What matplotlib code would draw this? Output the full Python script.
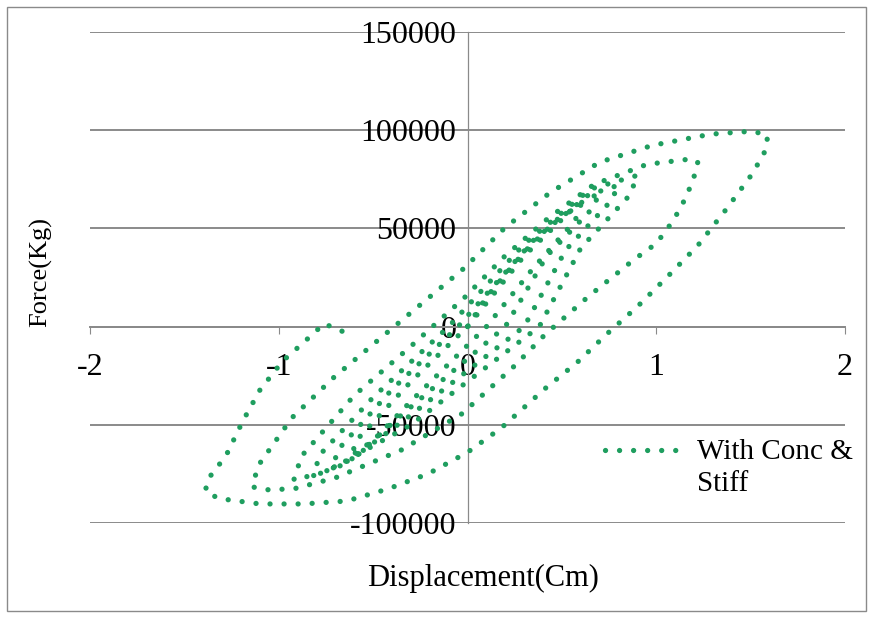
import matplotlib.pyplot as plt
from matplotlib.patches import Rectangle

# hysteresis path, cycle by cycle (displacement in cm, force in kg)
disp = [
    # cycle 1
    0.0, 0.1, 0.3, 0.48, 0.60,
    0.57, 0.35, 0.10, -0.3, -0.5, -0.62,
    # cycle 2
    -0.58, -0.3, 0.0, 0.3, 0.58, 0.70,
    0.66, 0.42, 0.20, -0.35, -0.6, -0.72,
    # cycle 3
    -0.68, -0.4, -0.05, 0.35, 0.64, 0.80,
    0.76, 0.52, 0.30, -0.3, -0.65, -0.82,
    # cycle 4
    -0.78, -0.5, -0.10, 0.3, 0.65, 0.9,
    0.86, 0.6, 0.38, -0.3, -0.75, -0.92,
    # cycle 5
    -0.88, -0.6, -0.3, -0.016, 0.19, 0.42, 0.67, 0.95, 1.17, 1.22,
    1.21, 1.16, 1.09, 1.0, 0.88, 0.64, 0.41, 0.25, -0.03, -0.35, -0.70, -0.92, -1.07, -1.14,
    # cycle 6
    -1.11, -0.93, -0.71, -0.37, -0.02, 0.20, 0.44, 0.70, 0.98, 1.29, 1.51, 1.59,
    1.58, 1.51, 1.37, 1.22, 1.06, 0.90, 0.74, 0.58, 0.41, 0.18, 0.0, -0.21, -0.42, -0.64, -0.87, -1.10, -1.32, -1.39,
    # final reload
    -1.37, -1.28, -1.19, -1.10, -0.98, -0.87, -0.76, -0.66,
]
force = [
    0, 15000, 38000, 55000, 62000,
    54000, 30000, 0, -38000, -58000, -66000,
    -57000, -28000, 0, 36000, 62000, 68000,
    60000, 36000, 0, -45000, -67000, -72000,
    -62000, -32000, 0, 44000, 67000, 72000,
    64000, 39000, 0, -45000, -70000, -76000,
    -65000, -36000, 0, 42000, 70000, 77000,
    67000, 40000, 0, -50000, -74000, -78000,
    -66000, -35000, -10000, 14800, 35200, 54600, 72400, 82600, 85200, 84000,
    79000, 66300, 54000, 42300, 34000, 15300, -4100, -19900, -44400, -62800, -77000, -82600, -83100, -81600,
    -70900, -46400, -26000, 1500, 29600, 50500, 68400, 83700, 92300, 98000, 99500, 97400,
    90000, 78000, 59700, 41300, 25500, 10200, -3600, -18300, -31600, -51500, -64000, -75000, -82600, -88800, -90300, -90300, -87500, -83700,
    -77000, -65800, -48000, -32300, -17600, -8200, 1500, -2550,
]

x_ticks = [-2, -1, 0, 1, 2]
y_ticks = [-100000, -50000, 0, 50000, 100000, 150000]
series_name = 'With Conc &\nStiff'

green = '#1f9e5f'
dotted = dict(color=green, linewidth=3.8, linestyle=(0, (0.01, 2.65)),
              dash_capstyle='round')

plt.rcParams['font.family'] = ['Liberation Serif', 'DejaVu Serif']

fig = plt.figure(figsize=(8.75, 6.19), dpi=100)
ax = fig.add_axes([0.1029, 0.1551, 0.8629, 0.7932])

ax.plot(disp, force, zorder=3, **dotted)

ax.set_xlim(-2, 2)
ax.set_ylim(-100000, 150000)
ax.set_xticks(x_ticks)
ax.set_yticks(y_ticks)
ax.set_xticklabels([str(v) for v in x_ticks])
ax.set_yticklabels([str(v) for v in y_ticks])

for v in y_ticks:
    ax.axhline(v, color='#8a8a8a', linewidth=1.4, zorder=1)

ax.spines['left'].set_position(('data', 0))
ax.spines['bottom'].set_position(('data', 0))
ax.spines['top'].set_visible(False)
ax.spines['right'].set_visible(False)
ax.spines['left'].set_color('#8a8a8a')
ax.spines['bottom'].set_color('#8a8a8a')
ax.spines['bottom'].set_linewidth(1.4)
ax.spines['left'].set_linewidth(0.9)

ax.tick_params(axis='x', direction='out', length=5, color='#8a8a8a',
               labelsize=23, pad=14)
ax.tick_params(axis='y', direction='out', length=0, labelsize=23, pad=8)

fig.text(0.552, 0.065, 'Displacement(Cm)', ha='center', va='center', fontsize=22)
fig.text(0.047, 0.56, 'Force(Kg)', ha='center', va='center', rotation=90, fontsize=19)

# legend entry: dotted sample level with the first line of the label
ax.plot([0.682, 0.782], [0.149, 0.149], transform=ax.transAxes, clip_on=False,
        zorder=3, **dotted)
ax.text(0.804, 0.065, series_name, transform=ax.transAxes, fontsize=21,
        ha='left', va='baseline', linespacing=1.3)

fig.patches.append(Rectangle((0.008, 0.013), 0.982, 0.975, transform=fig.transFigure,
                             fill=False, edgecolor='#8a8a8a', linewidth=1.0))

fig.savefig('out.png', dpi=100)
